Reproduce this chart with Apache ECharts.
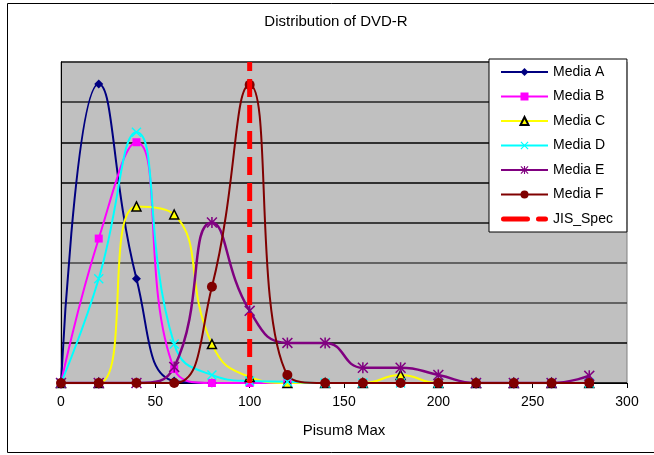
<!DOCTYPE html>
<html>
<head>
<meta charset="utf-8">
<script src="https://cdn.jsdelivr.net/npm/echarts@6/dist/echarts.min.js"></script>
<style>html,body{margin:0;padding:0;background:#fff}#c{width:654px;height:455px}</style>
</head>
<body>
<div id="c"></div>
<script>
const xValues = [0, 20, 40, 60, 80, 100, 120, 140, 160, 180, 200, 220, 240, 260, 280];
const mediaA = [0, 7.45, 2.6, 0.05, 0, 0, 0, 0, 0, 0, 0, 0, 0, 0, 0];
const mediaB = [0, 3.6, 6.0, 0.35, 0, 0, 0, 0, 0, 0, 0, 0, 0, 0, 0];
const mediaC = [0, 0, 4.4, 4.2, 0.97, 0.15, 0, 0, 0, 0.2, 0, 0, 0, 0, 0];
const mediaD = [0, 2.6, 6.25, 0.97, 0.2, 0.05, 0.03, 0, 0, 0, 0, 0, 0, 0, 0];
const mediaE = [0, 0, 0, 0.4, 4.0, 1.8, 1.0, 1.0, 0.38, 0.38, 0.2, 0, 0, 0, 0.18];
const mediaF = [0, 0, 0, 0, 2.4, 7.43, 0.2, 0, 0, 0, 0, 0, 0, 0, 0];
const jisSpecX = 100;
const jisSpecY = [0, 8];
const xTicks = { min: 0, max: 300, interval: 50 };
const yRange = { min: 0, max: 8, interval: 1 };

const pair = ys => xValues.map((x, i) => [x, ys[i]]);
const xSym = 'path://M0,1L1,0L5,4L9,0L10,1L6,5L10,9L9,10L5,6L1,10L0,9L4,5Z';
const starSym = 'path://M0,1L1,0L4.3,3.3L4.3,0L5.7,0L5.7,3.3L9,0L10,1L6.4,4.6L6.4,5.4L10,9L9,10L5.7,6.7L5.7,10L4.3,10L4.3,6.7L1,10L0,9L3.6,5.4L3.6,4.6Z';
const dashIcon = 'path://M2.5,0H26.5A2.5,2.5 0 0 1 26.5,5H2.5A2.5,2.5 0 0 1 2.5,0Z M37.5,0H44.5A2.5,2.5 0 0 1 44.5,5H37.5A2.5,2.5 0 0 1 37.5,0Z';

function mk(name, data, color, symbol, size, extra) {
  return Object.assign({
    name, type: 'line', smooth: 0.5, data: pair(data),
    symbol, symbolSize: size,
    lineStyle: { color, width: 2 },
    itemStyle: { color },
    z: 3
  }, extra || {});
}

const FONT = 'Liberation Sans, Arial, sans-serif';
const chart = echarts.init(document.getElementById('c'));
chart.setOption({
  animation: false,
  backgroundColor: '#fff',
  textStyle: { fontFamily: FONT },
  title: {
    text: 'Distribution of DVD-R', left: 336, textAlign: 'center', top: 14, padding: 0,
    textStyle: { fontSize: 15, fontWeight: 'normal', color: '#000', fontFamily: FONT }
  },
  graphic: [{
    type: 'rect', silent: true,
    shape: { x: 7.5, y: 3.5, width: 700, height: 449 },
    style: { fill: 'none', stroke: '#000', lineWidth: 1 }
  }],
  legend: {
    orient: 'vertical', left: 489, top: 59,
    padding: [6, 14, 6, 11],
    itemWidth: 47, itemHeight: 10, itemGap: 10.5,
    backgroundColor: '#fff', borderColor: '#000', borderWidth: 1,
    textStyle: { fontSize: 14, color: '#000', fontFamily: FONT },
    data: ['Media A', 'Media B', 'Media C', 'Media D', 'Media E', 'Media F',
      { name: 'JIS_Spec', icon: dashIcon, symbolKeepAspect: true, itemStyle: { color: '#FF0000' } }]
  },
  grid: {
    left: 61, top: 62, width: 566, height: 321,
    show: true, backgroundColor: '#C0C0C0', borderColor: '#808080', borderWidth: 1
  },
  xAxis: {
    type: 'value', min: xTicks.min, max: xTicks.max, interval: xTicks.interval,
    name: 'Pisum8 Max', nameLocation: 'middle', nameGap: 40,
    nameTextStyle: { fontSize: 15, color: '#000' },
    axisLine: { show: true, lineStyle: { color: '#000', width: 1 } },
    axisTick: { show: true, length: 5, lineStyle: { color: '#000' } },
    axisLabel: { fontSize: 14, color: '#000', margin: 12 },
    splitLine: { show: false }
  },
  yAxis: {
    type: 'value', min: yRange.min, max: yRange.max, interval: yRange.interval,
    axisLine: { show: true, lineStyle: { color: '#000', width: 1 } },
    axisTick: { show: false },
    axisLabel: { show: false },
    splitLine: { show: true, lineStyle: { width: 1.6, color: ['#000', '#000', '#444', '#444', '#111', '#000', '#000', '#222', '#222'] } }
  },
  series: [
    mk('Media A', mediaA, '#000080', 'diamond', 9),
    mk('Media B', mediaB, '#FF00FF', 'rect', 8),
    mk('Media C', mediaC, '#FFFF00', 'triangle', 9, { itemStyle: { color: '#FFFF00', borderColor: '#000', borderWidth: 1.5 } }),
    mk('Media D', mediaD, '#00FFFF', xSym, 10),
    mk('Media E', mediaE, '#800080', starSym, 11, { lineStyle: { color: '#800080', width: 2.5 } }),
    mk('Media F', mediaF, '#800000', 'circle', 10),
    {
      name: 'JIS_Spec', type: 'line', data: jisSpecY.map(y => [jisSpecX, y]),
      symbol: 'none', lineStyle: { color: '#FF0000', width: 5, type: [18, 8] },
      itemStyle: { color: '#FF0000' }, z: 4
    }
  ]
});
</script>
</body>
</html>
